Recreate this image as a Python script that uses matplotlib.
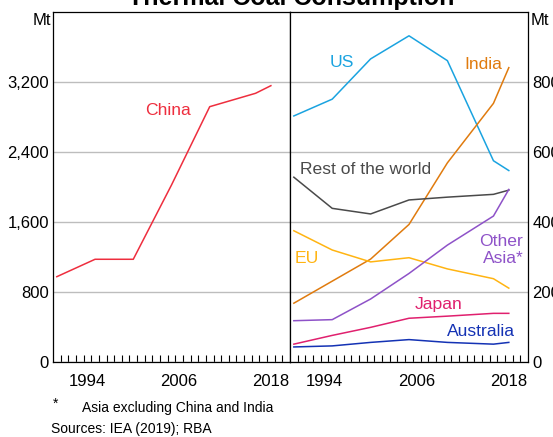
import numpy as np
import matplotlib.pyplot as plt
from matplotlib.ticker import FixedLocator, FuncFormatter

plt.rcParams['font.family'] = ['Liberation Sans', 'DejaVu Sans']

years = [1990, 1995, 2000, 2005, 2010, 2016, 2018]
china = [975, 1174, 1174, 2023, 2918, 3071, 3158]
us = [703, 751, 866, 932, 861, 575, 547]
india = [168, 231, 294, 393, 569, 739, 841]
rest_of_world = [528, 439, 423, 463, 471, 479, 491]
eu = [375, 320, 286, 298, 266, 238, 211]
other_asia = [118, 121, 180, 253, 334, 417, 493]
japan = [51, 76, 99, 125, 131, 139, 139]
australia = [43, 46, 56, 64, 56, 51, 56]

year_labels = [1994, 2006, 2018]
left_ticks = [0, 800, 1600, 2400, 3200]
right_ticks = [0, 200, 400, 600, 800]

W, H = 553, 437
fig = plt.figure(figsize=(W / 100, H / 100), dpi=100)


def box(x0, y0, x1, y1):
    return [x0 / W, 1 - y1 / H, (x1 - x0) / W, (y1 - y0) / H]


ax1 = fig.add_axes(box(53, 12, 290, 362))
ax2 = fig.add_axes(box(290, 12, 528, 362))

fmt = FuncFormatter(lambda v, p: f"{int(v):,}")

for ax, top, ticks in [(ax1, 4000, left_ticks), (ax2, 1000, right_ticks)]:
    ax.set_xlim(1989.5, 2020.5)
    ax.set_ylim(0, top)
    ax.set_yticks(ticks)
    ax.yaxis.set_major_formatter(fmt)
    ax.grid(axis='y', color='#bdbdbd', linewidth=1.0)
    ax.set_axisbelow(True)
    ax.set_xticks(year_labels)
    ax.xaxis.set_minor_locator(FixedLocator(np.arange(1990.5, 2020.5, 1)))
    ax.tick_params(axis='x', which='major', length=0, labelsize=12, pad=9)
    ax.tick_params(axis='x', which='minor', direction='in', length=5, width=0.8)
    ax.tick_params(axis='y', length=0, labelsize=12, pad=3)
    for s in ax.spines.values():
        s.set_linewidth(0.9)

ax2.yaxis.tick_right()
ax2.tick_params(axis='y', labelleft=False, labelright=True, pad=3)

lw = 1.1
fs = 12.6
ax1.plot(years, china, color='#ee2e3e', lw=lw)
ax1.text(2004.5, 2869, 'China', color='#ee2e3e', fontsize=fs, ha='center', va='center')

series = [
    (us, '#1aa3e0', 'US', 1996.3, 855, 'center'),
    (india, '#e07b0e', 'India', 2014.7, 849, 'center'),
    (rest_of_world, '#4a4a4a', 'Rest of the world', 1999.3, 549, 'center'),
    (eu, '#ffb412', 'EU', 1991.7, 297, 'center'),
    (other_asia, '#8e52c8', 'Other\nAsia*', 2019.9, 320, 'right'),
    (japan, '#e0206e', 'Japan', 2008.8, 163, 'center'),
    (australia, '#1432b4', 'Australia', 2014.4, 86, 'center'),
]
for vals, col, name, tx, ty, ha in series:
    ax2.plot(years, vals, color=col, lw=lw)
    ax2.text(tx, ty, name, color=col, fontsize=fs, ha=ha, va='center',
             multialignment='right', linespacing=1.1)

fig.text(51 / W, 1 - 20.5 / H, 'Mt', fontsize=12, ha='right', va='center')
fig.text(531 / W, 1 - 20.5 / H, 'Mt', fontsize=12, ha='left', va='center')

fig.text(291 / W, 1 - 5 / H, 'Thermal Coal Consumption', fontsize=18,
         fontweight='bold', ha='center', va='baseline')

fig.text(53 / W, 1 - 404 / H, '*', fontsize=10, ha='left', va='center')
fig.text(82 / W, 1 - 408 / H, 'Asia excluding China and India', fontsize=10,
         ha='left', va='center')
fig.text(51 / W, 1 - 429 / H, 'Sources: IEA (2019); RBA', fontsize=10,
         ha='left', va='center')

fig.savefig('out.png', dpi=100)
